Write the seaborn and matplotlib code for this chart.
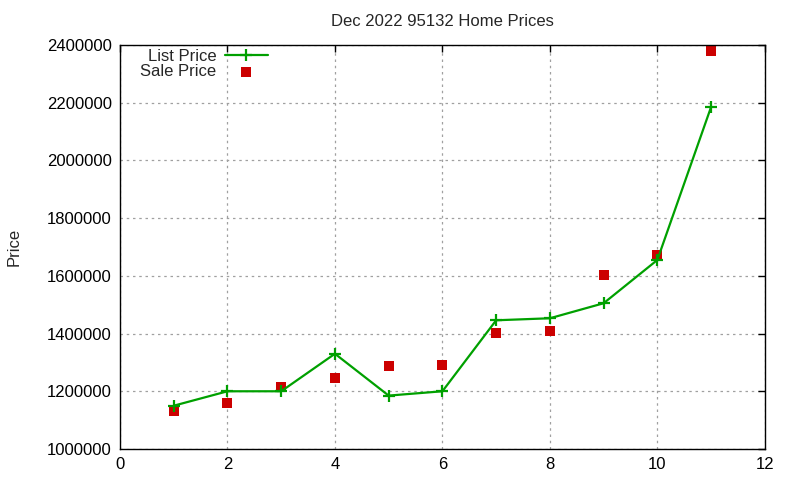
import matplotlib
matplotlib.use('Agg')
import matplotlib.pyplot as plt
import matplotlib.ticker as mticker
import seaborn as sns

# Dec 2022, zip 95132: list vs sale price per home
home_idx    = [1, 2, 3, 4, 5, 6, 7, 8, 9, 10, 11]
list_price  = [1150000, 1200000, 1200000, 1330000, 1185000, 1200000,
               1446000, 1453000, 1505000, 1655000, 2185000]
sale_price  = [1133000, 1161000, 1216000, 1247000, 1286000, 1290000,
               1401000, 1408000, 1603000, 1671000, 2380000]

sns.set_style("white")
plt.rcParams['font.family'] = ['Liberation Sans', 'DejaVu Sans']

fig = plt.figure(figsize=(8, 4.8), dpi=100)
ax = fig.add_axes([0.15, 0.0646, 0.806, 0.8417])

sns.lineplot(x=home_idx, y=list_price, ax=ax, color="#00a000", lw=1.6,
             marker="+", markersize=8, markeredgewidth=1.6,
             markeredgecolor="#00a000", label="List Price")
sns.scatterplot(x=home_idx, y=sale_price, ax=ax, color="#cc0000", marker="s",
                s=45, linewidth=0, label="Sale Price")

ax.set_xlim(0, 12)
ax.set_ylim(1000000, 2400000)
ax.set_xticks(range(0, 13, 2))
ax.set_yticks(range(1000000, 2400001, 200000))
ax.yaxis.set_major_formatter(mticker.FuncFormatter(lambda v, p: f"{int(v)}"))
ax.tick_params(direction="in", length=5, width=1, top=True, right=True,
               labelsize=12, colors="black", pad=6)
ax.grid(True, color="#a0a0a0", linestyle=(0, (2, 3)), lw=0.9)
for sp in ax.spines.values():
    sp.set_color("black")
    sp.set_linewidth(1)

ax.set_title("Dec 2022 95132 Home Prices", fontsize=12, pad=14)
ax.set_ylabel("Price", fontsize=12, labelpad=18)
ax.set_xlabel("")

ax.legend(loc="upper right", bbox_to_anchor=(268 / 800, 1 - 49 / 480),
          bbox_transform=fig.transFigure, frameon=False,
          markerfirst=False, fontsize=12, handlelength=2.6, labelspacing=0.0,
          borderaxespad=0, handletextpad=0.5, borderpad=0)

fig.savefig("out.png", dpi=100)
